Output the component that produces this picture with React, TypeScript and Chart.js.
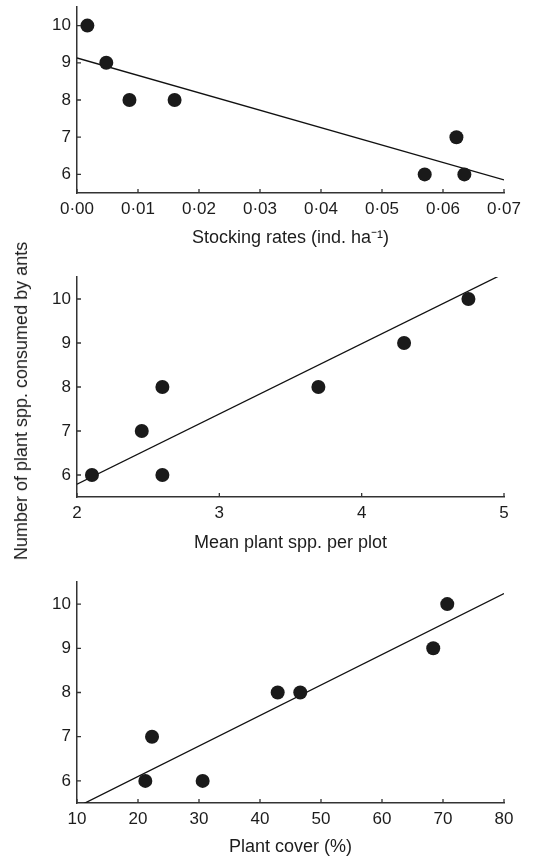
import React, { useEffect, useRef } from "react";
import { Chart, registerables } from "chart.js";

Chart.register(...registerables);

// Shared y-axis
const yTickValues = [6, 7, 8, 9, 10];
const yMin = 5.5;
const yMax = 10.5;
const yAxisTitle = "Number of plant spp. consumed by ants";

// Panel 1: stocking rates
const stockingX = [0.0017, 0.0048, 0.0086, 0.016, 0.057, 0.0622, 0.0635];
const stockingY = [10, 9, 8, 8, 6, 7, 6];
const stockingFitX = [0, 0.07];
const stockingFitY = [9.13, 5.85];
const stockingTicks = [0, 0.01, 0.02, 0.03, 0.04, 0.05, 0.06, 0.07];
const stockingTitle = "Stocking rates (ind. ha\u207B\u00B9)";

// Panel 2: mean plant spp. per plot
const meanSppX = [2.105, 2.455, 2.6, 2.6, 3.696, 4.298, 4.75];
const meanSppY = [6, 7, 8, 6, 8, 9, 10];
const meanSppFitX = [2, 5];
const meanSppFitY = [5.79, 10.58];
const meanSppTicks = [2, 3, 4, 5];
const meanSppTitle = "Mean plant spp. per plot";

// Panel 3: plant cover
const coverX = [21.2, 22.3, 30.6, 42.9, 46.6, 68.4, 70.7];
const coverY = [6, 7, 6, 8, 8, 9, 10];
const coverFitX = [10, 80];
const coverFitY = [5.41, 10.24];
const coverTicks = [10, 20, 30, 40, 50, 60, 70, 80];
const coverTitle = "Plant cover (%)";

const FONT = "'Liberation Sans', Arial, Helvetica, sans-serif";
const INK = "#1c1c1c";
const AXIS = "#333333";

const inwardTicks = {
  id: "inwardTicks",
  afterDraw(chart: any) {
    const { ctx, chartArea, scales } = chart;
    const x = scales.x;
    const y = scales.y;
    ctx.save();
    ctx.strokeStyle = AXIS;
    ctx.lineWidth = 1.3;
    ctx.beginPath();
    x.ticks.forEach((t: any) => {
      const px = x.getPixelForValue(t.value);
      ctx.moveTo(px, chartArea.bottom);
      ctx.lineTo(px, chartArea.bottom - 4);
    });
    y.ticks.forEach((t: any) => {
      const py = y.getPixelForValue(t.value);
      ctx.moveTo(chartArea.left, py);
      ctx.lineTo(chartArea.left + 4, py);
    });
    ctx.stroke();
    ctx.restore();
  },
};

type PanelProps = {
  top: number;
  height: number;
  padTop: number;
  axisHeight: number;
  titlePadBottom: number;
  xs: number[];
  ys: number[];
  fitX: number[];
  fitY: number[];
  xTicks: number[];
  title: string;
  fmt: (v: number) => string;
};

function Panel(p: PanelProps) {
  const ref = useRef<HTMLCanvasElement | null>(null);
  useEffect(() => {
    if (!ref.current) return;
    const chart = new Chart(ref.current, {
      type: "scatter",
      data: {
        datasets: [
          {
            type: "scatter",
            data: p.xs.map((x, i) => ({ x, y: p.ys[i] })),
            pointRadius: 7,
            pointHoverRadius: 7,
            backgroundColor: "#1a1a1a",
            borderWidth: 0,
            order: 0,
          } as any,
          {
            type: "line",
            data: p.fitX.map((x, i) => ({ x, y: p.fitY[i] })),
            showLine: true,
            borderColor: "#111111",
            borderWidth: 1.3,
            pointRadius: 0,
            fill: false,
            order: 1,
          } as any,
        ],
      },
      options: {
        responsive: false,
        animation: false,
        events: [],
        layout: { padding: { top: p.padTop, right: 29, bottom: 0, left: 0 } },
        plugins: { legend: { display: false }, tooltip: { enabled: false } },
        scales: {
          x: {
            type: "linear",
            min: p.xTicks[0],
            max: p.xTicks[p.xTicks.length - 1],
            afterBuildTicks: (s: any) => {
              s.ticks = p.xTicks.map((v) => ({ value: v }));
            },
            afterFit: (s: any) => {
              s.height = p.axisHeight;
            },
            grid: { display: true, drawOnChartArea: false, drawTicks: false, tickLength: 0 },
            border: { display: true, color: AXIS, width: 1.5 },
            ticks: {
              padding: 6,
              color: INK,
              font: { family: FONT, size: 17 },
              maxRotation: 0,
              autoSkip: false,
              callback: (v: any) => p.fmt(Number(v)),
            },
            title: {
              display: true,
              text: p.title,
              color: INK,
              font: { family: FONT, size: 18 },
              padding: { top: 0, bottom: p.titlePadBottom },
            },
          },
          y: {
            type: "linear",
            min: yMin,
            max: yMax,
            afterBuildTicks: (s: any) => {
              s.ticks = yTickValues.map((v) => ({ value: v }));
            },
            afterFit: (s: any) => {
              s.width = 77;
              s.paddingTop = 0;
              s.paddingBottom = 0;
            },
            grid: { display: true, drawOnChartArea: false, drawTicks: false, tickLength: 0 },
            border: { display: true, color: AXIS, width: 1.5 },
            ticks: {
              padding: 6,
              color: INK,
              font: { family: FONT, size: 17 },
              callback: (v: any) => String(v),
            },
          },
        },
      } as any,
      plugins: [inwardTicks],
    });
    return () => chart.destroy();
  }, []);
  return (
    <canvas
      ref={ref}
      width={533}
      height={p.height}
      style={{ position: "absolute", left: 0, top: p.top, width: 533, height: p.height, display: "block" }}
    />
  );
}

const fmtDot = (v: number) => v.toFixed(2).replace(".", "\u00B7");
const fmtInt = (v: number) => String(Math.round(v));

export default function App() {
  return (
    <div
      style={{
        position: "absolute",
        left: 0,
        top: 0,
        width: 533,
        height: 859,
        overflow: "hidden",
        background: "#ffffff",
      }}
    >
      <Panel
        top={0}
        height={255}
        padTop={5}
        axisHeight={62}
        titlePadBottom={6}
        xs={stockingX}
        ys={stockingY}
        fitX={stockingFitX}
        fitY={stockingFitY}
        xTicks={stockingTicks}
        title={stockingTitle}
        fmt={fmtDot}
      />
      <Panel
        top={255}
        height={305}
        padTop={22}
        axisHeight={63}
        titlePadBottom={6}
        xs={meanSppX}
        ys={meanSppY}
        fitX={meanSppFitX}
        fitY={meanSppFitY}
        xTicks={meanSppTicks}
        title={meanSppTitle}
        fmt={fmtInt}
      />
      <Panel
        top={560}
        height={299}
        padTop={22}
        axisHeight={56}
        titlePadBottom={1}
        xs={coverX}
        ys={coverY}
        fitX={coverFitX}
        fitY={coverFitY}
        xTicks={coverTicks}
        title={coverTitle}
        fmt={fmtInt}
      />
      <div
        style={{
          position: "absolute",
          left: 21,
          top: 401,
          transform: "translate(-50%, -50%) rotate(-90deg)",
          whiteSpace: "nowrap",
          fontFamily: FONT,
          fontSize: 18,
          color: INK,
          lineHeight: 1,
        }}
      >
        {yAxisTitle}
      </div>
    </div>
  );
}
